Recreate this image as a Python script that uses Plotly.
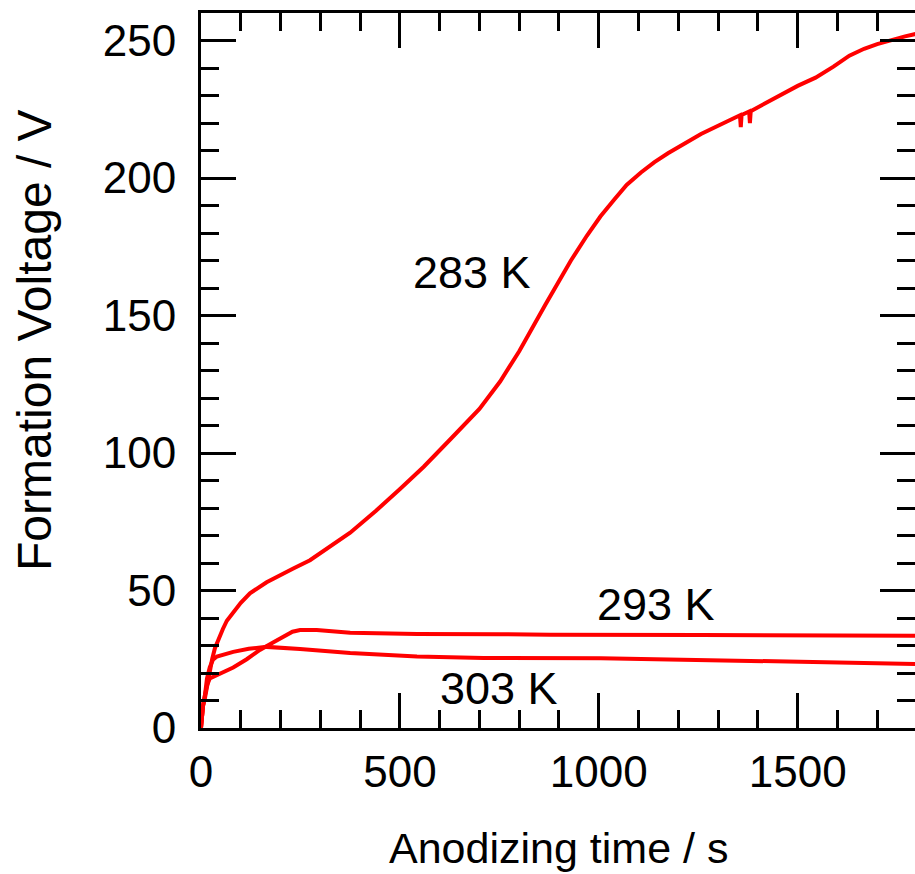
import plotly.graph_objects as go

# ---- data ----
t_283 = [0, 2, 5, 10, 15, 20, 28, 35, 43, 55, 65, 80, 100, 123, 165, 232, 274, 375, 440, 501, 560, 627, 700, 752, 800, 866, 930, 970, 1004, 1038, 1070, 1106, 1140, 1174, 1215, 1257, 1300, 1355, 1357, 1359, 1378, 1380, 1382, 1441, 1500, 1545, 1590, 1630, 1667, 1700, 1735, 1770, 1800]
v_283 = [0, 6, 8, 11, 15, 20, 25, 29, 32, 36, 39, 42, 45.5, 49, 53, 58, 61, 71, 79, 87, 95, 105, 116, 126, 137, 154, 170, 179, 186, 192, 197.5, 202, 205.8, 209, 212.5, 216, 219, 222.8, 218.5, 222.9, 224.2, 220, 224.3, 229, 233.5, 236.5, 240.5, 244.5, 247, 248.7, 250.2, 251.5, 252.5]

t_293 = [0, 2, 5, 10, 15, 22, 50, 81, 115, 148, 180, 207, 230, 249, 291, 375, 543, 752, 878, 1257, 1800]
v_293 = [0, 6, 8, 12, 15.5, 18, 20, 22, 25, 28.4, 31, 33, 35, 35.6, 35.6, 34.6, 34.2, 34.1, 33.9, 33.8, 33.5]

t_303 = [0, 2, 5, 10, 15, 22, 30, 40, 81, 120, 165, 249, 375, 543, 710, 1005, 1257, 1508, 1800]
v_303 = [0, 6, 8, 12, 18, 22, 24.8, 26, 27.7, 28.8, 29.5, 28.7, 27.3, 26, 25.5, 25.4, 24.7, 24, 23.3]

labels = ["283 K", "293 K", "303 K"]
label_x = [681, 1144, 748]
label_y = [165.8, 44.9, 14.4]

x_major = [0, 500, 1000, 1500]
x_minor = [100, 200, 300, 400, 600, 700, 800, 900, 1100, 1200, 1300, 1400, 1600, 1700]
y_major = [0, 50, 100, 150, 200, 250]
y_minor = [v for v in range(10, 260, 10) if v % 50 != 0]

x_title = "Anodizing time / s"
y_title = "Formation Voltage / V"

X_RANGE = [0, 1795]
Y_RANGE = [0, 260]

FONT = "Liberation Sans, Arial, sans-serif"
RED = "#ff0000"

fig = go.Figure()
for tt, vv in [(t_283, v_283), (t_293, v_293), (t_303, v_303)]:
    fig.add_trace(go.Scatter(x=tt, y=vv, mode="lines",
                             line=dict(color=RED, width=4),
                             showlegend=False, hoverinfo="skip"))
# dummy traces so that the tick-only overlay axes are drawn
for xa, ya in [("x2", "y"), ("x3", "y"), ("x4", "y"), ("x", "y2"), ("x", "y3"), ("x", "y4")]:
    fig.add_trace(go.Scatter(x=[None], y=[None], xaxis=xa, yaxis=ya,
                             showlegend=False, hoverinfo="skip"))

for txt, lx, ly in zip(labels, label_x, label_y):
    fig.add_annotation(x=lx, y=ly, text=txt, showarrow=False,
                       font=dict(family=FONT, size=45, color="black"),
                       xanchor="center", yanchor="middle")

fig.add_annotation(xref="paper", yref="paper", x=0.5, y=-0.168, text=x_title,
                   showarrow=False, font=dict(family=FONT, size=43, color="black"),
                   xanchor="center", yanchor="middle")
fig.add_annotation(xref="paper", yref="paper", x=-0.2325, y=0.5427, text=y_title,
                   showarrow=False, textangle=-90,
                   font=dict(family=FONT, size=48, color="black"),
                   xanchor="center", yanchor="middle")

tk = dict(ticks="inside", tickwidth=2.5, tickcolor="black",
          showgrid=False, zeroline=False, tickmode="array")

fig.update_layout(
    width=915, height=874,
    margin=dict(l=201, r=0, t=13, b=146),
    paper_bgcolor="white", plot_bgcolor="white",
    font=dict(family=FONT, size=44, color="black"),
    xaxis=dict(range=X_RANGE, tickvals=x_major, ticklen=35, ticklabelstandoff=3,
               showline=True, linewidth=3, linecolor="black", mirror=True,
               tickfont=dict(size=44), **tk),
    xaxis2=dict(range=X_RANGE, overlaying="x", side="bottom", tickvals=x_minor, ticklen=18,
                showline=False, showticklabels=False, **tk),
    xaxis3=dict(range=X_RANGE, overlaying="x", side="top", tickvals=x_major, ticklen=35,
                showline=False, showticklabels=False, **tk),
    xaxis4=dict(range=X_RANGE, overlaying="x", side="top", tickvals=x_minor, ticklen=18,
                showline=False, showticklabels=False, **tk),
    yaxis=dict(range=Y_RANGE, tickvals=y_major, ticklen=35, ticklabelstandoff=13,
               showline=True, linewidth=3, linecolor="black", mirror=False,
               tickfont=dict(size=44), **tk),
    yaxis2=dict(range=Y_RANGE, overlaying="y", side="left", tickvals=y_minor, ticklen=18,
                showline=False, showticklabels=False, **tk),
    yaxis3=dict(range=Y_RANGE, overlaying="y", side="right", tickvals=y_major, ticklen=35,
                showline=False, showticklabels=False, **tk),
    yaxis4=dict(range=Y_RANGE, overlaying="y", side="right", tickvals=y_minor, ticklen=18,
                showline=False, showticklabels=False, **tk),
)

fig.write_html("out.html")
